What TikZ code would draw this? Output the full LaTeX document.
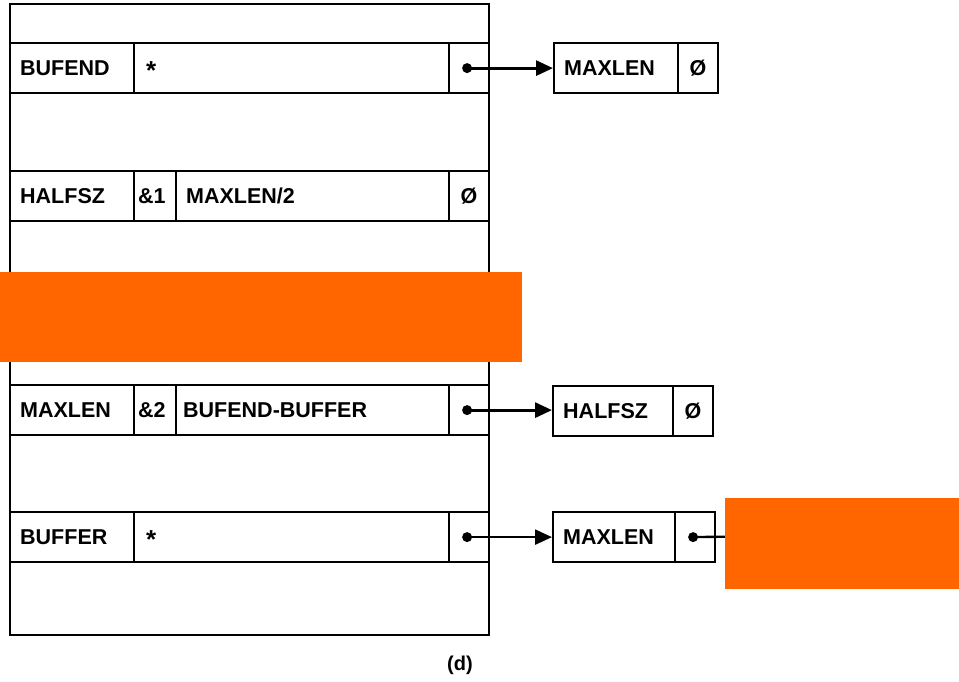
\documentclass[tikz,border=0pt]{standalone}
\usepackage{fontspec}
\setmainfont{Liberation Sans}
\usetikzlibrary{arrows.meta}
\definecolor{mask}{HTML}{FF6600}
\tikzset{
  cell/.style={draw, line width=2.2pt, anchor=north west, inner sep=0pt, minimum height=50pt},
  lbl/.style={anchor=west, inner sep=0pt, font=\bfseries\fontsize{21.5}{25}\selectfont},
  ctr/.style={inner sep=0pt, font=\bfseries\fontsize{21.5}{25}\selectfont},
  star/.style={anchor=west, inner sep=0pt, font=\bfseries\fontsize{26}{26}\selectfont},
  dotn/.style={circle, fill=black, inner sep=0pt, minimum size=10pt},
  ptr/.style={line width=3pt, -{Triangle[length=17pt,width=15pt]}},
  maskbox/.style={fill=mask, draw=none, anchor=north west, inner sep=0pt},
}
\begin{document}
\begin{tikzpicture}[x=1pt,y=-1pt]
\useasboundingbox (0,0) rectangle (959,681);
% outer memory block
\node[draw, line width=2.4pt, anchor=north west, inner sep=0pt, minimum width=479pt, minimum height=631pt] (mem) at (9,3) {};
% row 1: BUFEND
\node[cell, minimum width=124pt] (r1a) at (9,42) {};
\node[cell, minimum width=315pt] (r1b) at (133,42) {};
\node[cell, minimum width=40pt] (r1c) at (448,42) {};
\node[lbl] (t1a) at ([xshift=11pt]r1a.west) {BUFEND};
\node[star] (t1b) at ([xshift=13pt,yshift=-2pt]r1b.west) {*};
\node[dotn] (d1) at ([xshift=-2pt]r1c.center) {};
% row 2: HALFSZ
\node[cell, minimum width=124pt] (r2a) at (9,170) {};
\node[cell, minimum width=42pt] (r2b) at (133,170) {};
\node[cell, minimum width=273pt] (r2c) at (175,170) {};
\node[cell, minimum width=40pt] (r2d) at (448,170) {};
\node[lbl] (t2a) at ([xshift=11pt]r2a.west) {HALFSZ};
\node[lbl] (t2b) at ([xshift=5pt]r2b.west) {\&1};
\node[lbl] (t2c) at ([xshift=11pt]r2c.west) {MAXLEN/2};
\node[ctr] (t2d) at (r2d.center) {Ø};
% row 3: MAXLEN
\node[cell, minimum width=124pt] (r3a) at (9,384) {};
\node[cell, minimum width=42pt] (r3b) at (133,384) {};
\node[cell, minimum width=273pt] (r3c) at (175,384) {};
\node[cell, minimum width=40pt] (r3d) at (448,384) {};
\node[lbl] (t3a) at ([xshift=11pt]r3a.west) {MAXLEN};
\node[lbl] (t3b) at ([xshift=5pt]r3b.west) {\&2};
\node[lbl] (t3c) at ([xshift=8pt]r3c.west) {BUFEND-BUFFER};
\node[dotn] (d3) at ([xshift=-2pt]r3d.center) {};
% row 4: BUFFER
\node[cell, minimum width=124pt] (r4a) at (9,511) {};
\node[cell, minimum width=315pt] (r4b) at (133,511) {};
\node[cell, minimum width=40pt] (r4c) at (448,511) {};
\node[lbl] (t4a) at ([xshift=11pt]r4a.west) {BUFFER};
\node[star] (t4b) at ([xshift=13pt,yshift=-2pt]r4b.west) {*};
\node[dotn] (d4) at ([xshift=-2pt]r4c.center) {};
% target boxes
\node[cell, minimum width=124pt] (b1a) at (553,42) {};
\node[cell, minimum width=40pt] (b1b) at (677,42) {};
\node[lbl] (u1a) at ([xshift=11pt]b1a.west) {MAXLEN};
\node[ctr] (u1b) at (b1b.center) {Ø};
\node[cell, minimum width=120pt] (b2a) at (552,385) {};
\node[cell, minimum width=40pt] (b2b) at (672,385) {};
\node[lbl] (u2a) at ([xshift=11pt]b2a.west) {HALFSZ};
\node[ctr] (u2b) at (b2b.center) {Ø};
\node[cell, minimum width=122pt] (b3a) at (552,511) {};
\node[cell, minimum width=40pt] (b3b) at (674,511) {};
\node[lbl] (u3a) at ([xshift=11pt]b3a.west) {MAXLEN};
\node[dotn] (e3) at ([xshift=-2pt]b3b.center) {};
\coordinate (far) at (780,536);
% pointers
\draw[ptr] (d1.center) -- (d1.center -| b1a.west);
\draw[ptr] (d3.center) -- (d3.center -| b2a.west);
\draw[ptr, line width=2.4pt] (d4.center) -- (d4.center -| b3a.west);
\draw[line width=2.4pt] (e3.center) -- (far);
% caption
\node[ctr, font=\bfseries\fontsize{20}{24}\selectfont] (cap) at (460,665) {(d)};
% masking rectangles
\node[maskbox, minimum width=522pt, minimum height=90pt] (m1) at (0,272) {};
\node[maskbox, minimum width=234pt, minimum height=91pt] (m2) at (725,498) {};
\end{tikzpicture}
\end{document}
